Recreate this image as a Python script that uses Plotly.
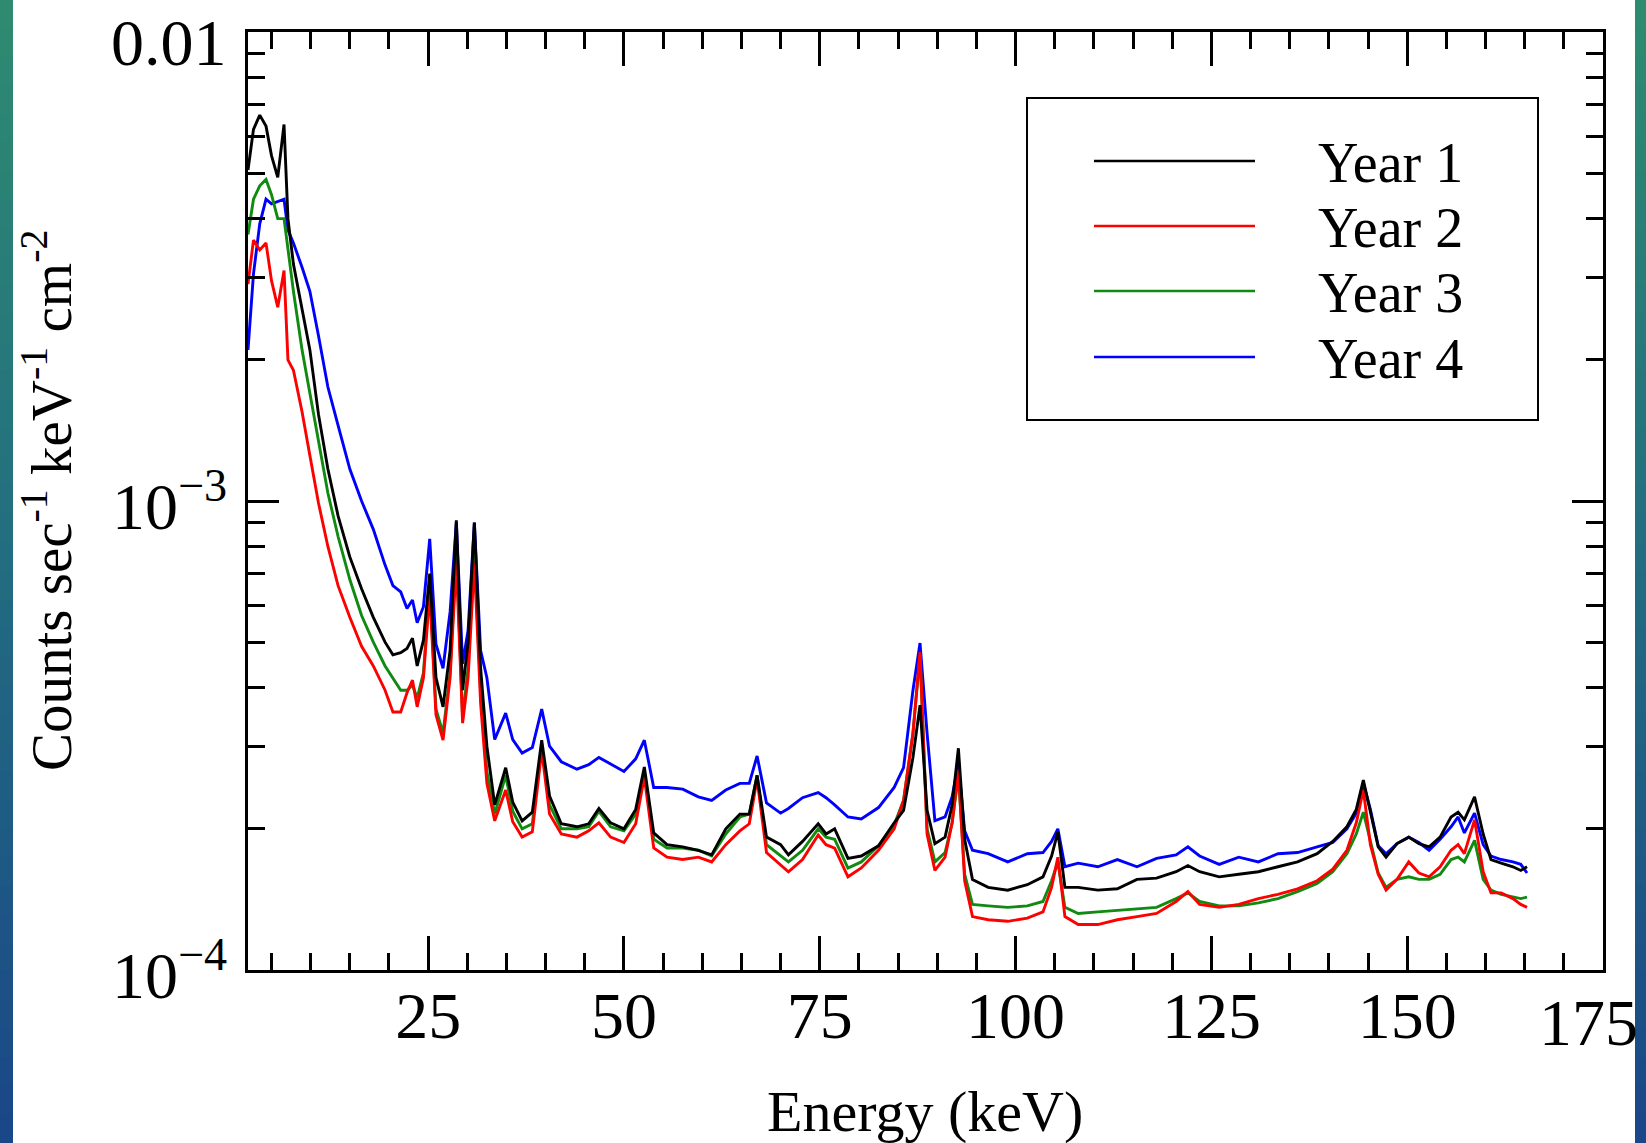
import math
import plotly.graph_objects as go

# ---------------- data (counts s^-1 keV^-1 cm^-2, in units of 1e-4) ----------------
energy_keV = [2.0, 2.7, 3.5, 4.3, 5.0, 5.8, 6.6, 7.1, 7.8, 8.9, 9.9, 11.0, 12.2, 13.5, 15.0, 16.5, 18.0, 19.5,
              20.5, 21.5, 22.3, 23.0, 23.6, 24.4, 25.2, 26.0, 26.9, 27.8, 28.6, 29.4, 30.1, 30.9, 31.7, 32.5,
              33.5, 34.9, 35.8, 37.0, 38.3, 39.5, 40.5, 42.0, 44.0, 45.5, 46.8, 48.3, 50.0, 51.5, 52.6, 53.8,
              55.5, 57.5, 59.5, 61.2, 63.0, 64.8, 66.0, 67.0, 68.2, 70.0, 71.0, 72.8, 74.8, 75.8, 76.9, 78.6,
              80.3, 82.5, 84.5, 85.7, 86.9, 87.8, 88.7, 89.7, 91.0, 91.9, 92.7, 93.5, 94.5, 96.5, 99.0, 101.5,
              103.5, 104.6, 105.4, 106.3, 108.0, 110.5, 113.0, 115.5, 118.0, 120.5, 122.0, 123.5, 126.0, 128.5,
              131.0, 133.5, 136.0, 138.5, 140.5, 142.3, 143.5, 144.4, 145.3, 146.3, 147.3, 148.7, 150.2, 151.5,
              152.8, 154.2, 155.6, 156.5, 157.3, 158.6, 159.7, 160.7, 162.0, 163.5, 164.5, 165.3]

year1 = [50.8, 62, 66.5, 63, 54.5, 49, 63.5, 40, 32, 25.5, 21, 15.3, 11.7, 9.3, 7.6, 6.5, 5.65, 5.0,
         4.7, 4.75, 4.85, 5.1, 4.45, 5.05, 7.0, 4.2, 3.64, 4.8, 9.1, 3.95, 5.0, 9.0, 4.4, 3.0,
         2.25, 2.7, 2.28, 2.08, 2.17, 3.09, 2.35, 2.05, 2.02, 2.05, 2.21, 2.06, 2.0, 2.2, 2.71, 1.96,
         1.85, 1.83, 1.80, 1.76, 2.0, 2.15, 2.15, 2.6, 1.92, 1.85, 1.76, 1.88, 2.05, 1.95, 2.0, 1.73,
         1.75, 1.84, 2.06, 2.19, 2.84, 3.67, 2.19, 1.86, 1.92, 2.25, 2.97, 1.9, 1.56, 1.50, 1.48, 1.52,
         1.58, 1.75, 1.97, 1.50, 1.50, 1.48, 1.49, 1.56, 1.57, 1.62, 1.67, 1.62, 1.58, 1.60,
         1.62, 1.66, 1.70, 1.77, 1.88, 2.02, 2.2, 2.54, 2.16, 1.83, 1.74, 1.86, 1.92, 1.86,
         1.83, 1.92, 2.12, 2.17, 2.09, 2.34, 1.95, 1.72, 1.69, 1.66, 1.63, 1.66]

year2 = [29, 36, 34.3, 35.5, 29.5, 25.9, 31, 20, 19.0, 15.5, 12.5, 9.9, 8.0, 6.6, 5.65, 4.9, 4.45, 3.95,
         3.55, 3.55, 3.9, 4.15, 3.64, 4.2, 6.4, 3.5, 3.09, 4.2, 7.4, 3.36, 4.2, 7.4, 3.7, 2.5,
         2.08, 2.42, 2.07, 1.92, 1.97, 2.94, 2.15, 1.95, 1.92, 1.98, 2.06, 1.92, 1.87, 2.05, 2.58, 1.82,
         1.74, 1.72, 1.74, 1.70, 1.85, 1.98, 2.05, 2.55, 1.78, 1.68, 1.62, 1.72, 1.94, 1.85, 1.82, 1.58,
         1.65, 1.80, 2.0, 2.3, 3.2, 4.76, 1.95, 1.63, 1.74, 2.06, 2.67, 1.55, 1.30, 1.28, 1.27, 1.29,
         1.33, 1.50, 1.74, 1.30, 1.25, 1.25, 1.28, 1.30, 1.32, 1.40, 1.47, 1.38, 1.36, 1.38,
         1.42, 1.45, 1.49, 1.55, 1.64, 1.80, 2.06, 2.42, 1.85, 1.60, 1.48, 1.56, 1.70, 1.61,
         1.58, 1.66, 1.80, 1.85, 1.77, 2.09, 1.62, 1.46, 1.46, 1.42, 1.38, 1.36]

year3 = [37, 44, 47, 48.5, 45, 40, 40, 34.3, 28, 21, 17, 13.6, 10.4, 8.4, 6.8, 5.7, 5.0, 4.45,
         4.2, 3.95, 3.95, 4.05, 3.8, 4.3, 6.6, 3.6, 3.2, 4.3, 7.8, 3.45, 4.4, 7.8, 3.9, 2.65,
         2.15, 2.6, 2.18, 2.0, 2.05, 3.0, 2.25, 2.0, 2.0, 2.02, 2.18, 2.02, 1.98, 2.15, 2.65, 1.9,
         1.82, 1.82, 1.80, 1.75, 1.95, 2.12, 2.15, 2.6, 1.85, 1.75, 1.70, 1.80, 2.0, 1.92, 1.9, 1.65,
         1.7, 1.84, 2.04, 2.3, 3.2, 4.7, 2.0, 1.7, 1.78, 2.06, 2.6, 1.6, 1.38, 1.37, 1.36, 1.37,
         1.40, 1.55, 1.70, 1.36, 1.32, 1.33, 1.34, 1.35, 1.36, 1.42, 1.46, 1.40, 1.37, 1.37,
         1.39, 1.42, 1.47, 1.53, 1.62, 1.77, 1.95, 2.17, 1.89, 1.61, 1.50, 1.56, 1.58, 1.56,
         1.56, 1.60, 1.72, 1.74, 1.70, 1.89, 1.56, 1.48, 1.45, 1.43, 1.42, 1.43]

year4 = [21, 30.5, 39, 44, 43, 43.5, 44, 37.8, 35.5, 31.5, 28, 22.5, 17.5, 14.5, 11.7, 10.0, 8.7, 7.3,
         6.6, 6.4, 5.9, 6.15, 5.5, 5.95, 8.3, 4.95, 4.4, 5.8, 9.0, 4.5, 5.3, 9.0, 4.8, 4.2,
         3.1, 3.53, 3.1, 2.9, 2.98, 3.6, 3.0, 2.78, 2.68, 2.74, 2.84, 2.75, 2.65, 2.82, 3.09, 2.45,
         2.45, 2.43, 2.34, 2.30, 2.42, 2.5, 2.5, 2.86, 2.27, 2.16, 2.21, 2.33, 2.39, 2.33, 2.25, 2.12,
         2.10, 2.22, 2.45, 2.7, 3.95, 4.98, 3.2, 2.08, 2.12, 2.34, 2.76, 1.98, 1.80, 1.77, 1.70, 1.77,
         1.78, 1.88, 2.0, 1.66, 1.69, 1.66, 1.72, 1.66, 1.73, 1.76, 1.83, 1.75, 1.68, 1.74,
         1.70, 1.77, 1.78, 1.83, 1.87, 2.0, 2.16, 2.5, 2.2, 1.84, 1.77, 1.86, 1.92, 1.87,
         1.80, 1.9, 2.02, 2.12, 1.96, 2.16, 1.85, 1.75, 1.72, 1.70, 1.68, 1.61]

series_names = ["Year 1", "Year 2", "Year 3", "Year 4"]
series_colors = ["#000000", "#ff0000", "#108a10", "#0000ff"]
x_tick_vals = [25, 50, 75, 100, 125, 150]
x_tick_text = ["25", "50", "75", "100", "125", "150"]
y_tick_vals = [1e-4, 1e-3, 1e-2]
y_tick_text = ["10<sup>−4</sup>", "10<sup>−3</sup>", "0.01"]
UNIT = 1e-4

for s in (year1, year2, year3, year4):
    assert len(s) == len(energy_keV), (len(s), len(energy_keV))

# ---------------- layout geometry ----------------
W, H = 1646, 1143
L, R, T, B = 248, 43, 32, 173
PW, PH = W - L - R, H - T - B
FONT = "Liberation Serif, Times New Roman, serif"


def px(x):
    return (x - L) / PW


def py(y):
    return (H - B - y) / PH


fig = go.Figure()
all_series = [year1, year2, year3, year4]
for i in [3, 2, 1, 0]:
    fig.add_trace(go.Scatter(
        x=energy_keV, y=[v * UNIT for v in all_series[i]], mode="lines",
        name=series_names[i], line=dict(color=series_colors[i], width=2.9),
        showlegend=False, hoverinfo="skip"))

shapes = []
# gradient side strips (page background)
top_c, mid_c, bot_c = (46, 140, 112), (34, 108, 128), (26, 70, 136)
NB = 40
for k in range(NB):
    f = (k + 0.5) / NB
    if f < 0.5:
        g = f / 0.5
        c = [round(top_c[j] + (mid_c[j] - top_c[j]) * g) for j in range(3)]
    else:
        g = (f - 0.5) / 0.5
        c = [round(mid_c[j] + (bot_c[j] - mid_c[j]) * g) for j in range(3)]
    col = "rgb(%d,%d,%d)" % tuple(c)
    y0p, y1p = k * H / NB, (k + 1) * H / NB + 1
    for xa, xb in ((0, 13), (1635, W)):
        shapes.append(dict(type="rect", xref="paper", yref="paper", x0=px(xa), x1=px(xb),
                           y0=py(y1p), y1=py(y0p), line=dict(width=0), fillcolor=col, layer="below"))

# legend box
shapes.append(dict(type="rect", xref="paper", yref="paper", x0=px(1027), x1=px(1538), y0=py(420), y1=py(98),
                   line=dict(color="black", width=2), fillcolor="white", layer="above"))
leg_y = [161, 226, 291, 357]
annotations = []
for i in range(4):
    shapes.append(dict(type="line", xref="paper", yref="paper", x0=px(1094), x1=px(1255),
                       y0=py(leg_y[i]), y1=py(leg_y[i]), line=dict(color=series_colors[i], width=2.5),
                       layer="above"))
    annotations.append(dict(text=series_names[i], xref="paper", yref="paper", x=px(1316), y=py(leg_y[i] + 2),
                            xanchor="left", yanchor="middle", showarrow=False,
                            font=dict(family=FONT, size=56, color="black")))

# y tick labels (placed on the log axis values)
for val, txt in zip(y_tick_vals, y_tick_text):
    annotations.append(dict(text=txt, xref="paper", yref="y", x=px(229), y=math.log10(val),
                            xanchor="right", yanchor="middle", showarrow=False,
                            yshift=-10 if val == 1e-2 else 0,
                            font=dict(family=FONT, size=66, color="black")))

annotations.append(dict(text="Counts sec<sup>-1</sup> keV<sup>-1</sup> cm<sup>-2</sup>", textangle=-90,
                        xref="paper", yref="paper", x=px(47), y=py(501), xanchor="center", yanchor="middle",
                        showarrow=False, font=dict(family=FONT, size=57, color="black")))
annotations.append(dict(text="Energy (keV)", xref="paper", yref="paper", x=px(925), y=py(1111),
                        xanchor="center", yanchor="middle", showarrow=False,
                        font=dict(family=FONT, size=58, color="black")))
annotations.append(dict(text="175", xref="paper", yref="paper", x=px(1588), y=py(1023),
                        xanchor="center", yanchor="middle", showarrow=False,
                        font=dict(family=FONT, size=66, color="black")))

fig.update_layout(
    width=W, height=H, margin=dict(l=L, r=R, t=T, b=B, pad=0),
    paper_bgcolor="white", plot_bgcolor="white",
    font=dict(family=FONT, color="black"),
    showlegend=False, shapes=shapes, annotations=annotations,
    xaxis=dict(range=[2, 175], showline=True, linecolor="black", linewidth=3, mirror="ticks",
               tickmode="array", tickvals=x_tick_vals, ticktext=x_tick_text,
               ticks="inside", ticklen=34, tickwidth=2.5, tickcolor="black",
               minor=dict(tickmode="linear", tick0=0, dtick=5, ticks="inside", ticklen=17, tickwidth=2.5,
                          tickcolor="black", showgrid=False),
               showgrid=False, zeroline=False, automargin=False, ticklabelstandoff=-14,
               ticklabeloverflow="allow",
               tickfont=dict(family=FONT, size=66, color="black")),
    yaxis=dict(type="log", range=[-4, -2], showline=True, linecolor="black", linewidth=3, mirror="ticks",
               tickmode="array", tickvals=y_tick_vals, ticktext=y_tick_text, showticklabels=False,
               ticks="inside", ticklen=31, tickwidth=2.5, tickcolor="black",
               minor=dict(tickmode="array",
                          tickvals=[m * 10 ** e for e in (-4, -3) for m in range(2, 10)],
                          ticks="inside", ticklen=17, tickwidth=2.5, tickcolor="black", showgrid=False),
               showgrid=False, zeroline=False, automargin=False),
)

fig.write_html("out.html", config={"displayModeBar": False})
